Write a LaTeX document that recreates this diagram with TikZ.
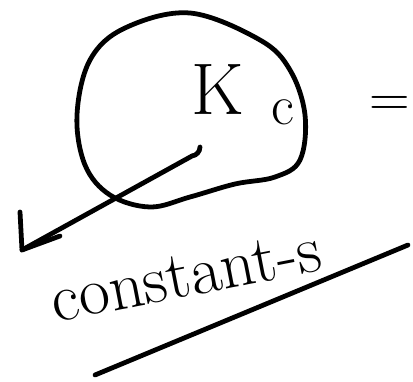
\documentclass[tikz,border=0pt]{standalone}
\usepackage{amsmath}
\usepackage{amssymb}
\usetikzlibrary{arrows}

\begin{document}
\begin{tikzpicture}[x=0.025cm,y=-0.025cm]
		\tikzset{pen/.style={line width=3.4pt,black,line cap=round,line join=round}};
		\tikzset{ink/.style={inner sep=0pt,black}};
		\useasboundingbox (0,0) rectangle (413,381);
		% the blob
		\draw[pen] plot[smooth cycle,tension=0.6] coordinates {(190,13) (260,40) (290,70) (305,115) (300,160) (275,177) (235,184) (190,197) (150,207) (110,195) (85,165) (77,115) (90,60) (125,28)};
		\node[ink] (kay) at (218,90) {\fontsize{52}{52}\selectfont K};
		\node[ink] (cee) at (283,112) {\fontsize{40}{40}\selectfont c};
		\node[ink] (eq) at (390,106) {\fontsize{40}{40}\selectfont =};
		% arrow out of the blob
		\coordinate (tail) at (200,147);
		\coordinate (tip) at (22,250);
		\coordinate (barbup) at (20,212);
		\coordinate (barbdn) at (60,236);
		\draw[pen] (tail) to[bend left=40] (192,156) -- (tip);
		\draw[pen] (barbup) -- (tip) -- (barbdn);
		\node[ink,rotate=11] (const) at (186,276) {\fontsize{48}{48}\selectfont constant-s};
		\coordinate (lineL) at (95,375);
		\coordinate (lineR) at (408,245);
		\draw[pen] (lineL) -- (lineR);
	\end{tikzpicture}
\end{document}
